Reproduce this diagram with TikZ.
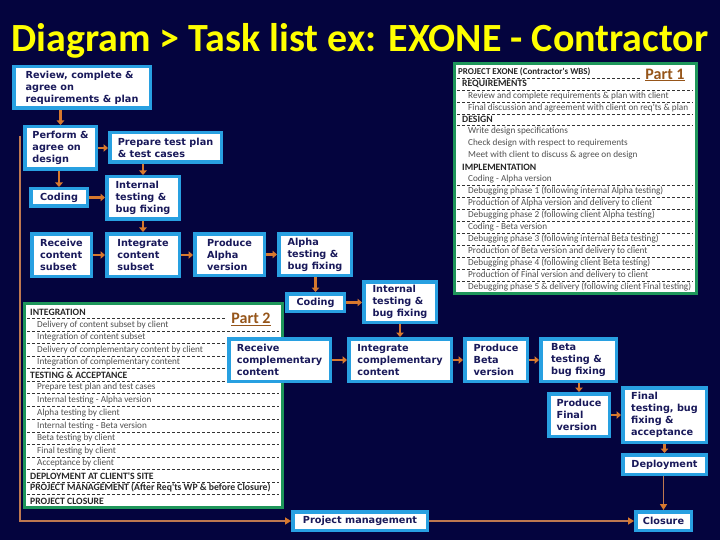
\documentclass[tikz,border=0pt]{standalone}
\usepackage{fontspec}
\setmainfont{DejaVu Sans}
\newfontfamily\carl{Carlito}
\usetikzlibrary{arrows.meta}
\definecolor{bgnavy}{RGB}{4,4,62}
\definecolor{boxblue}{RGB}{40,160,225}
\definecolor{txtnavy}{RGB}{25,25,90}
\definecolor{arrorange}{RGB}{215,120,45}
\definecolor{linebrown}{RGB}{190,120,80}
\definecolor{partgreen}{RGB}{30,150,90}
\definecolor{partbrown}{RGB}{150,85,25}
\definecolor{itemgray}{RGB}{80,80,80}
\newcommand{\bx}[6]{\node[box, minimum width={#4-#2-3.5}, minimum height={#5-#3-3.5}] (#1) at ({(#2+#4)/2},{(#3+#5)/2}) {#6};}
\begin{document}
\begin{tikzpicture}[x=1pt,y=-1pt,
  box/.style={draw=boxblue, fill=white, line width=3.5pt, outer sep=1.75pt, inner xsep=4pt, inner ysep=2pt,
    align=left, text=txtnavy, font=\bfseries\fontsize{9.7}{12}\selectfont},
  arr/.style={draw=arrorange, line width=2.5pt, -{Triangle[length=4.5pt,width=7.5pt]}},
  longln/.style={draw=linebrown, line width=1.8pt},
  longarr/.style={longln, -{Triangle[length=6pt,width=7pt,color=arrorange]}},
  partbox/.style={draw=partgreen, fill=white, line width=3pt},
  item/.style={anchor=west, inner sep=0pt, text=itemgray, font=\carl\fontsize{9.2}{10}\selectfont},
  head/.style={anchor=west, inner sep=0pt, text=black!85, font=\carl\bfseries\fontsize{9.7}{10}\selectfont},
  dl/.style={draw=black!80, line width=0.6pt, dash pattern=on 3pt off 2pt},
  partlbl/.style={inner sep=0pt, text=partbrown, font=\carl\bfseries\fontsize{16}{18}\selectfont}
]
\fill[bgnavy] (0,0) rectangle (720,540);
\useasboundingbox (0,0) rectangle (720,540);

% title
\node[text={rgb,255:red,255;green,255;blue,0}, font=\carl\bfseries\fontsize{40}{42}\selectfont, inner sep=0pt] (title) at (360,41) {Diagram > Task list ex: EXONE - Contractor};

% Part 1 box
\draw[partbox] (454,64) rectangle (696,293);
\node[head, font=\carl\bfseries\fontsize{9}{10}\selectfont] (p1h) at (458,72) {PROJECT EXONE (Contractor's WBS)};
\node[partlbl] (p1l) at (665,75) {\underline{Part 1}};
\node[head] (p1a) at (462,84) {REQUIREMENTS};
\node[item] (p1b) at (468,96) {Review and complete requirements \& plan with client};
\node[item] (p1c) at (468,108) {Final discussion and agreement with client on req'ts \& plan};
\node[head] (p1d) at (462,119) {DESIGN};
\node[item] (p1e) at (468,131) {Write design specifications};
\node[item] (p1f) at (468,143) {Check design with respect to requirements};
\node[item] (p1g) at (468,155) {Meet with client to discuss \& agree on design};
\node[head] (p1h2) at (462,167) {IMPLEMENTATION};
\node[item] (p1i) at (468,179) {Coding - Alpha version};
\node[item] (p1j) at (468,191) {Debugging phase 1 (following internal Alpha testing)};
\node[item] (p1k) at (468,203) {Production of Alpha version and delivery to client};
\node[item] (p1l2) at (468,215) {Debugging phase 2 (following client Alpha testing)};
\node[item] (p1m) at (468,227) {Coding - Beta version};
\node[item] (p1n) at (468,239) {Debugging phase 3 (following internal Beta testing)};
\node[item] (p1o) at (468,251) {Production of Beta version and delivery to client};
\node[item] (p1p) at (468,263) {Debugging phase 4 (following client Beta testing)};
\node[item] (p1q) at (468,275) {Production of Final version and delivery to client};
\node[item] (p1r) at (468,287) {Debugging phase 5 \& delivery (following client Final testing)};
\draw[dl] (457,78) -- (640,78);
\foreach \yy in {90,102,114,125,185,197,209,221,233,245,257,269,281}
  \draw[dl] (457,\yy) -- (693,\yy);

% Part 2 box
\draw[partbox] (24,303) rectangle (282,507);
\node[partlbl] (p2l) at (251,319) {\underline{Part 2}};
\node[head] (p2a) at (30,312) {INTEGRATION};
\node[item] (p2b) at (37,325) {Delivery of content subset by client};
\node[item] (p2c) at (37,337) {Integration of content subset};
\node[item] (p2d) at (37,350) {Delivery of complementary content by client};
\node[item] (p2e) at (37,362) {Integration of complementary content};
\node[head] (p2f) at (30,375) {TESTING \& ACCEPTANCE};
\node[item] (p2g) at (37,387) {Prepare test plan and test cases};
\node[item] (p2h) at (37,400) {Internal testing - Alpha version};
\node[item] (p2i) at (37,413) {Alpha testing by client};
\node[item] (p2j) at (37,426) {Internal testing - Beta version};
\node[item] (p2k) at (37,438) {Beta testing by client};
\node[item] (p2m) at (37,451) {Final testing by client};
\node[item] (p2n) at (37,463) {Acceptance by client};
\node[head] (p2o) at (30,476) {DEPLOYMENT AT CLIENT'S SITE};
\node[head] (p2p) at (30,488) {PROJECT MANAGEMENT (After Req'ts WP \& before Closure)};
\node[head] (p2q) at (30,501) {PROJECT CLOSURE};
\draw[dl] (27,318) -- (226,318);
\foreach \yy in {331,343,356,368,381,393,406,419,432,444,457,469,482,494}
  \draw[dl] (27,\yy) -- (279,\yy);

% boxes
\bx{review}{12}{65}{152}{110}{Review, complete \&\\agree on\\requirements \& plan}
\bx{perform}{23}{125}{98}{171}{Perform \&\\agree on\\design}
\bx{prepare}{108}{131}{223}{164}{Prepare test plan\\\& test cases}
\bx{coding}{29}{187}{89}{208}{Coding}
\bx{itest}{105}{175}{181}{221}{Internal\\testing \&\\bug fixing}
\bx{recsub}{30}{232}{93}{278}{Receive\\content\\subset}
\bx{intsub}{105}{232}{181}{278}{Integrate\\content\\subset}
\bx{palpha}{193}{232}{266}{277}{Produce\\Alpha\\version}
\bx{talpha}{277}{232}{353}{277}{Alpha\\testing \&\\bug fixing}
\bx{coding2}{285}{292}{346}{313}{Coding}
\bx{itest2}{362}{280}{438}{324}{Internal\\testing \&\\bug fixing}
\bx{reccomp}{227}{337}{332}{383}{Receive\\complementary\\content}
\bx{intcomp}{347}{337}{453}{383}{Integrate\\complementary\\content}
\bx{pbeta}{463}{337}{529}{383}{Produce\\Beta\\version}
\bx{tbeta}{539}{337}{618}{383}{Beta\\testing \&\\bug fixing}
\bx{pfinal}{547}{392}{611}{438}{Produce\\Final\\version}
\bx{tfinal}{621}{386}{708}{444}{Final\\testing, bug\\fixing \&\\acceptance}
\bx{deploy}{621}{453}{708}{476}{Deployment}
\bx{closure}{634}{510}{693}{532}{Closure}
\bx{pm}{291}{510}{429}{532}{Project management}

% vertical arrows
\draw[arr] (perform.north |- review.south) -- (perform.north);
\draw[arr] (coding.north |- perform.south) -- (coding.north);
\draw[arr] (itest.north |- prepare.south) -- (itest.north);
\draw[arr] (intsub.north |- itest.south) -- (intsub.north);
\draw[arr] (coding2.north |- talpha.south) -- (coding2.north);
\draw[arr] (intcomp.north |- itest2.south) -- (intcomp.north);
\draw[arr] (pfinal.north |- tbeta.south) -- (pfinal.north);
\draw[arr] (deploy.north |- tfinal.south) -- (deploy.north);
% horizontal arrows
\draw[arr] (perform.east) -- (perform.east -| prepare.west);
\draw[arr] (coding.east) -- (coding.east -| itest.west);
\draw[arr] (recsub.east) -- (recsub.east -| intsub.west);
\draw[arr] (intsub.east) -- (intsub.east -| palpha.west);
\draw[arr] (palpha.east) -- (palpha.east -| talpha.west);
\draw[arr] (coding2.east) -- (coding2.east -| itest2.west);
\draw[arr] (reccomp.east) -- (reccomp.east -| intcomp.west);
\draw[arr] (intcomp.east) -- (intcomp.east -| pbeta.west);
\draw[arr] (pbeta.east) -- (pbeta.east -| tbeta.west);
\draw[arr] (pfinal.east) -- (pfinal.east -| tfinal.west);
% long lines
\coordinate (lstart) at (20,136);
\draw[longarr] (lstart) |- (pm.west);
\draw[longarr] (pm.east) -- (closure.west);
\draw[longarr] (closure.north |- deploy.south) -- (closure.north);
\end{tikzpicture}
\end{document}
